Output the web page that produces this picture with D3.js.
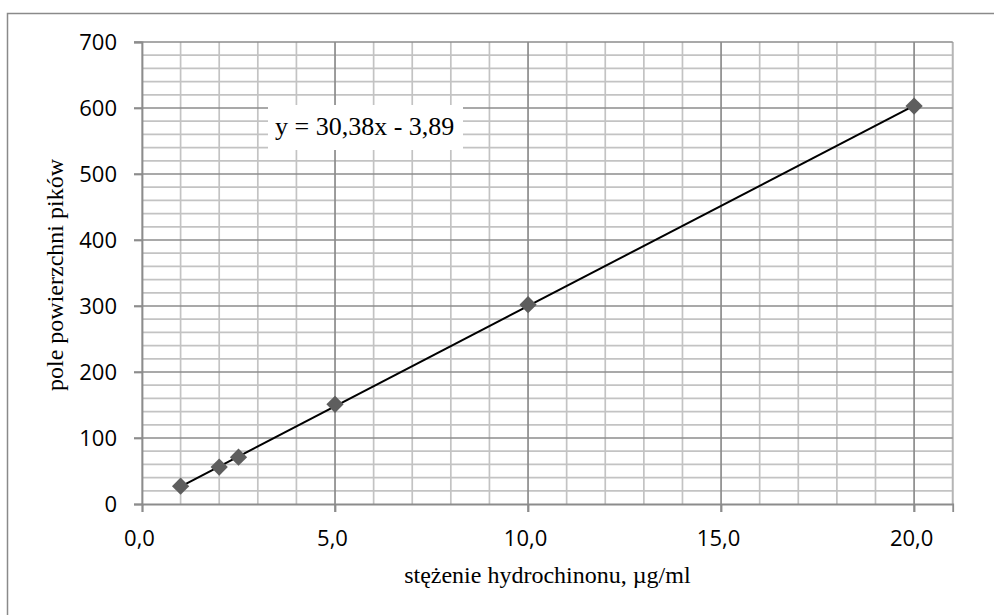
<!DOCTYPE html>
<html><head><meta charset="utf-8">
<script src="https://cdn.jsdelivr.net/npm/d3@7"></script>
<style>body{margin:0;background:#fff;}svg{display:block;}</style>
</head><body>
<svg id="c" width="994" height="615"></svg>
<script>
// ---- data ----
const concentration = [1, 2, 2.5, 5, 10, 20];
const peakArea = [27, 56, 71, 151, 302, 603];
const slope = 30.38, intercept = -3.89;
const equationLabel = "y = 30,38x - 3,89";
const xTickValues = [0, 5, 10, 15, 20];
const yTickValues = [0, 100, 200, 300, 400, 500, 600, 700];
const xTitle = "stężenie hydrochinonu, µg/ml";
const yTitle = "pole powierzchni pików";

const svg = d3.select("#c");
const L = 142, R = 952.7, T = 42, B = 504;
const x = d3.scaleLinear().domain([0, 21]).range([L, R]);
const y = d3.scaleLinear().domain([0, 700]).range([B, T]);
const loc = d3.formatLocale({decimal: ",", thousands: " ", grouping: [3], currency: ["", ""]});
const fx = loc.format(".1f");

// outer border
svg.append("rect").attr("x", 7.5).attr("y", 13.5).attr("width", 1000).attr("height", 700)
  .attr("fill", "none").attr("stroke", "#8a8a8a").attr("stroke-width", 1.5);

// minor gridlines
const minorX = d3.range(0, 21.001, 1).filter(v => v % 5 !== 0 || v === 0);
const minorY = d3.range(0, 700.001, 20).filter(v => v % 100 !== 0);
const g = svg.append("g");
g.selectAll(".mx").data(minorX).join("line")
  .attr("x1", d => x(d)).attr("x2", d => x(d)).attr("y1", T).attr("y2", B)
  .attr("stroke", "#c3c3c3").attr("stroke-width", 1.7);
g.selectAll(".my").data(minorY).join("line")
  .attr("x1", L).attr("x2", R).attr("y1", d => y(d)).attr("y2", d => y(d))
  .attr("stroke", "#c3c3c3").attr("stroke-width", 1.7);
// right edge
g.append("line").attr("x1", x(21)).attr("x2", x(21)).attr("y1", T).attr("y2", B)
  .attr("stroke", "#b5b5b5").attr("stroke-width", 1.7);

// major gridlines
g.selectAll(".Mx").data(xTickValues.filter(v => v > 0)).join("line")
  .attr("x1", d => x(d)).attr("x2", d => x(d)).attr("y1", T).attr("y2", B + 8)
  .attr("stroke", "#8c8c8c").attr("stroke-width", 1.7);
g.selectAll(".My").data(yTickValues.filter(v => v > 0)).join("line")
  .attr("x1", L - 8).attr("x2", R).attr("y1", d => y(d)).attr("y2", d => y(d))
  .attr("stroke", "#8c8c8c").attr("stroke-width", 1.7);

// axes
const yAxis = svg.append("g").attr("transform", `translate(${L},0)`)
  .call(d3.axisLeft(y).tickValues(yTickValues).tickSize(8).tickPadding(17).tickFormat(d3.format("d")));
const xAxis = svg.append("g").attr("transform", `translate(0,${B})`)
  .call(d3.axisBottom(x).tickValues(xTickValues).tickSize(8).tickPadding(20).tickFormat(fx));
[yAxis, xAxis].forEach(a => {
  a.select(".domain").attr("stroke", "#8c8c8c").attr("stroke-width", 1.8);
  a.selectAll(".tick line").attr("stroke", "#8c8c8c").attr("stroke-width", 1.7);
  a.selectAll("text").attr("font-family", "'Open Sans', sans-serif").attr("font-size", 22).attr("fill", "#000");
});
xAxis.selectAll("text").attr("dy", null).attr("y", 42).attr("dx", -3);
yAxis.selectAll("text").attr("dy", "0.35em");

// trendline
const xr = d3.extent(concentration);
svg.append("line")
  .attr("x1", x(xr[0])).attr("y1", y(slope * xr[0] + intercept))
  .attr("x2", x(xr[1])).attr("y2", y(slope * xr[1] + intercept))
  .attr("stroke", "#000").attr("stroke-width", 2);

// markers
const sym = d3.symbol().type(d3.symbolDiamond2).size(190);
svg.selectAll(".pt").data(concentration).join("path")
  .attr("transform", (d, i) => `translate(${x(d)},${y(peakArea[i])})`)
  .attr("d", sym).attr("fill", "#5e5e5e");

// equation label
svg.append("rect").attr("x", 268).attr("y", 105).attr("width", 195).attr("height", 45).attr("fill", "#fff");
svg.append("text").attr("x", 275).attr("y", 135)
  .attr("font-family", "'Liberation Serif', serif").attr("font-size", 26).attr("fill", "#000")
  .text(equationLabel);

// axis titles
svg.append("text").attr("x", (L + R) / 2).attr("y", 583).attr("text-anchor", "middle")
  .attr("font-family", "'Liberation Serif', serif").attr("font-size", 24).attr("fill", "#000")
  .text(xTitle);
svg.append("text").attr("transform", `translate(63,${(T + B) / 2 + 2}) rotate(-90)`).attr("text-anchor", "middle")
  .attr("font-family", "'Liberation Serif', serif").attr("font-size", 24).attr("fill", "#000")
  .text(yTitle);
</script>
</body></html>
